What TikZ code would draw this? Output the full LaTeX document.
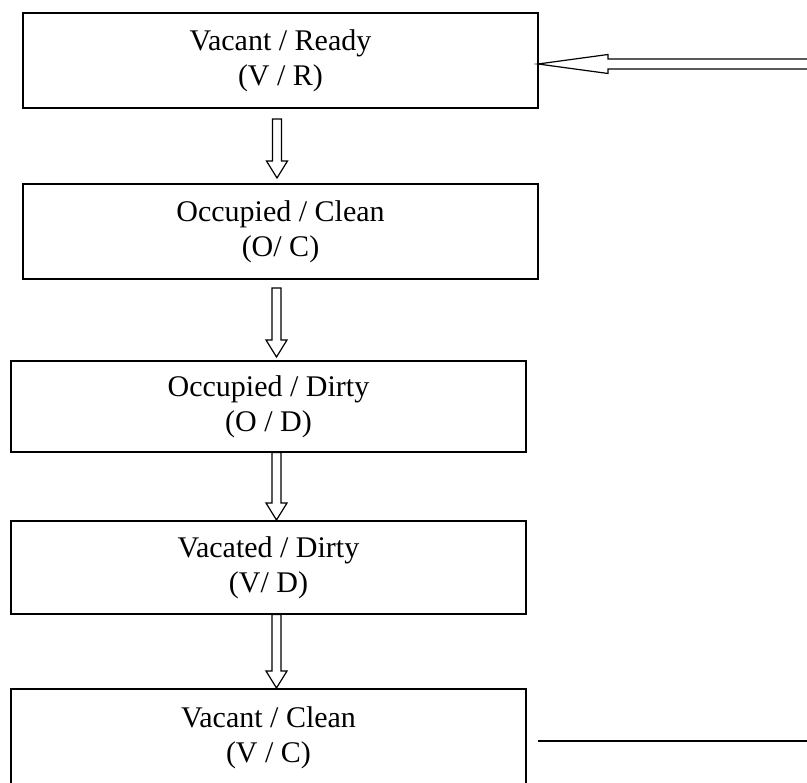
\documentclass[tikz,border=0pt]{standalone}
\usepackage{fontspec}
\setmainfont{Liberation Serif}
\usetikzlibrary{calc}
\tikzset{
  statebox/.style={draw=black, line width=1.4pt, fill=white, align=center, inner sep=0pt,
    font=\fontsize{30}{35}\selectfont},
  blockarrow/.style={draw=black, line width=1.2pt, fill=white, line join=miter},
  loopline/.style={draw=black, line width=1.4pt}
}
% hollow block arrow pointing down, from top coordinate #1 to tip coordinate #2
\newcommand\hollowdown[2]{%
  \draw[blockarrow] ($(#1)+(-4.5,0)$) -- ($(#2)+(-4.5,-17)$) -- ($(#2)+(-10.5,-17)$) -- (#2)
    -- ($(#2)+(10.5,-17)$) -- ($(#2)+(4.5,-17)$) -- ($(#1)+(4.5,0)$) -- cycle;}
\begin{document}
\begin{tikzpicture}[x=1pt,y=-1pt]
\useasboundingbox (0,0) rectangle (807,783);
\clip (0,0) rectangle (807,783);
\fill[white] (0,0) rectangle (807,783);

\node[statebox, minimum width=515pt, minimum height=95pt] (b1) at (280.5,60.5) {Vacant / Ready\\(V / R)};
\node[statebox, minimum width=515pt, minimum height=95pt] (b2) at (280.5,231.5) {Occupied / Clean\\(O/ C)};
\node[statebox, minimum width=515pt, minimum height=91pt] (b3) at (268.5,406.5) {Occupied / Dirty\\(O / D)};
\node[statebox, minimum width=515pt, minimum height=93pt] (b4) at (268.5,567.5) {Vacated / Dirty\\(V/ D)};
\node[statebox, minimum width=515pt, minimum height=97pt] (b5) at (268.5,737.5) {Vacant / Clean\\(V / C)};

% down arrows
\coordinate (a1t) at (277,119);   \coordinate (a1h) at (277,178);
\coordinate (a2t) at (276.5,288); \coordinate (a2h) at (276.5,357);
\coordinate (a3t) at (276.5,452.5); \coordinate (a3h) at (276.5,520);
\coordinate (a4t) at (276.5,614.5); \coordinate (a4h) at (276.5,688);
\hollowdown{a1t}{a1h}
\hollowdown{a2t}{a2h}
\hollowdown{a3t}{a3h}
\hollowdown{a4t}{a4h}

% loop back: line leaving Vacant/Clean, hollow arrow entering Vacant/Ready
\coordinate (l5) at (538,741);
\coordinate (r5) at (815,741);
\draw[loopline] (l5) -- (r5);

\coordinate (tip1) at (538,64);
\coordinate (r1) at (815,64);
\draw[blockarrow] (tip1) -- ($(tip1)+(70,-9.5)$) -- ($(tip1)+(70,-5)$) -- ($(r1)+(0,-5)$)
  -- ($(r1)+(0,5)$) -- ($(tip1)+(70,5)$) -- ($(tip1)+(70,9.5)$) -- cycle;
\end{tikzpicture}
\end{document}
